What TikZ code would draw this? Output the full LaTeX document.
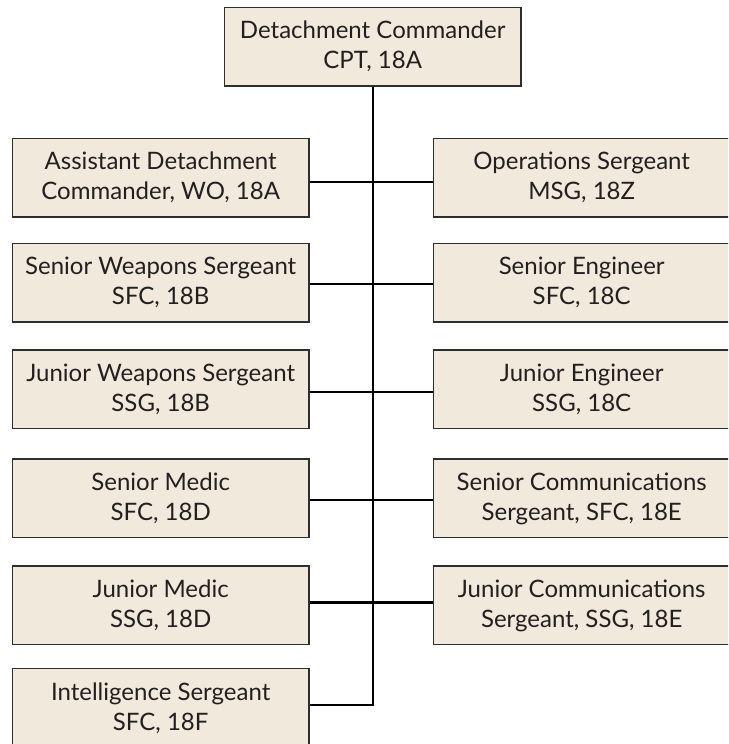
\documentclass[tikz,border=0pt]{standalone}
\usepackage{fontspec}
\setmainfont{Lato}
\definecolor{boxfill}{HTML}{F1E9DB}
\definecolor{boxline}{HTML}{2E2E2E}
\definecolor{txt}{HTML}{231F20}
\begin{document}
\begin{tikzpicture}[x=1pt,y=1pt,
  rolebox/.style={draw=boxline, line width=1.2pt, fill=boxfill, text=txt,
    minimum width=296.7pt, minimum height=78.7pt, inner sep=0pt, align=center,
    font=\fontsize{24}{30}\selectfont},
  link/.style={draw=black, line width=2.4pt}]
\useasboundingbox (0,0) rectangle (728,-744);
\clip (0,0) rectangle (728,-744);
\node[rolebox] (top) at (372.7,-46.7) {Detachment Commander\\CPT, 18A};
\node[rolebox] (L1) at (160.7,-177.7) {Assistant Detachment\\Commander, WO, 18A};
\node[rolebox] (R1) at (581.7,-177.7) {Operations Sergeant\\MSG, 18Z};
\node[rolebox] (L2) at (160.7,-282.7) {Senior Weapons Sergeant\\SFC, 18B};
\node[rolebox] (R2) at (581.7,-282.7) {Senior Engineer\\SFC, 18C};
\node[rolebox] (L3) at (160.7,-389.4) {Junior Weapons Sergeant\\SSG, 18B};
\node[rolebox] (R3) at (581.7,-389.4) {Junior Engineer\\SSG, 18C};
\node[rolebox] (L4) at (160.7,-498.4) {Senior Medic\\SFC, 18D};
\node[rolebox] (R4) at (581.7,-498.4) {Senior Communications\\Sergeant, SFC, 18E};
\node[rolebox] (L5) at (160.7,-605.4) {Junior Medic\\SSG, 18D};
\node[rolebox] (R5) at (581.7,-605.4) {Junior Communications\\Sergeant, SSG, 18E};
\node[rolebox] (L6) at (160.7,-708.1) {Intelligence Sergeant\\SFC, 18F};
\coordinate (spine) at (372.7,-705);
\draw[link] (top.south) -- (spine) -- ([yshift=3.1pt]L6.east);
\draw[link] ([yshift=-4pt]L1.east) -- ([yshift=-4pt]R1.west);
\draw[link] ([yshift=-1.3pt]L2.east) -- ([yshift=-1.3pt]R2.west);
\draw[link] ([yshift=-2.3pt]L3.east) -- ([yshift=-2.3pt]R3.west);
\draw[link] ([yshift=-1.6pt]L4.east) -- ([yshift=-1.6pt]R4.west);
\draw[link] ([yshift=3.1pt]L5.east) -- ([yshift=3.1pt]R5.west);
\end{tikzpicture}
\end{document}
